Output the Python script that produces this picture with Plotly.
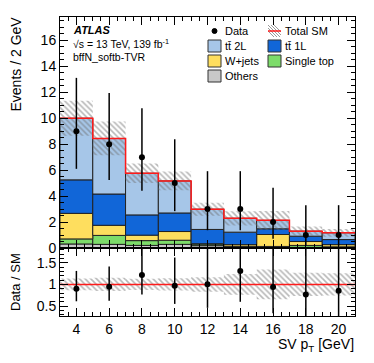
import numpy as np
import plotly.graph_objects as go

# SV pT bins (2 GeV wide)
bin_centers = [4, 6, 8, 10, 12, 14, 16, 18, 20]
bin_edges = [3, 5, 7, 9, 11, 13, 15, 17, 19, 21]
bin_width = 2

# stacked backgrounds, bottom to top
others = [0.31, 0.28, 0.20, 0.28, 0.18, 0.10, 0.08, 0.05, 0.05]
single_top = [0.39, 0.69, 0.37, 0.32, 0.13, 0.03, 0.04, 0.15, 0.04]
wjets = [1.97, 0.78, 0.42, 0.67, 0.02, 0.13, 0.92, 0.30, 0.17]
ttbar_1l = [2.58, 2.41, 1.56, 1.43, 1.10, 0.96, 0.44, 0.41, 0.39]
ttbar_2l = [4.75, 4.28, 3.21, 2.47, 1.56, 1.07, 0.65, 0.39, 0.52]

sm_unc = [1.35, 1.30, 0.75, 0.72, 0.50, 0.55, 0.73, 0.35, 0.30]

data = [9, 8, 7, 5, 3, 3, 2, 1, 1]
data_err_lo = [2.90, 2.76, 2.58, 2.16, 1.63, 1.63, 1.29, 0.83, 0.83]
data_err_hi = [4.11, 3.94, 3.77, 3.38, 2.92, 2.92, 2.64, 2.30, 2.30]

COLORS = {
    "Others": "#c8c8c8",
    "Single top": "#7ddc6a",
    "W+jets": "#fede5e",
    "tt\u0304 1L": "#1166d8",
    "tt\u0304 2L": "#a6c6e8",
}
components = [
    ("Others", others),
    ("Single top", single_top),
    ("W+jets", wjets),
    ("tt\u0304 1L", ttbar_1l),
    ("tt\u0304 2L", ttbar_2l),
]

FONT = "Liberation Sans, Arial, sans-serif"
HATCH = {"shape": "\\", "fgcolor": "#707070", "bgcolor": "rgba(0,0,0,0)", "size": 4, "solidity": 0.4}
RED = "#ff1a1a"

# the page body adds an 8px offset; the figure is shrunk to fit the window
PAGE_OFFSET = 8
FIG_W, FIG_H = 374 - PAGE_OFFSET, 363 - PAGE_OFFSET
# page-pixel frame of the plot area, used to place text and the hand-made legend
PX_L, PX_R, PX_T, PX_B = 60, 355, 17, 316


def px_to_paper(px, py):
    return (px - PX_L) / (PX_R - PX_L), (PX_B - py) / (PX_B - PX_T)


fig = go.Figure()

total = np.zeros(len(bin_centers))
for name, values in components:
    fig.add_trace(
        go.Bar(
            x=bin_centers,
            y=values,
            base=total.copy(),
            width=bin_width,
            name=name,
            marker={"color": COLORS[name], "line": {"color": "#222222", "width": 1}},
            xaxis="x",
            yaxis="y",
        )
    )
    total = total + np.array(values)

unc = np.array(sm_unc)

fig.add_trace(
    go.Bar(
        x=bin_centers,
        y=2 * unc,
        base=total - unc,
        width=bin_width,
        marker={"color": "rgba(0,0,0,0)", "line": {"width": 0}, "pattern": HATCH},
        xaxis="x",
        yaxis="y",
    )
)

fig.add_trace(
    go.Scatter(
        x=bin_edges,
        y=list(total) + [total[-1]],
        mode="lines",
        line={"color": RED, "width": 1.5, "shape": "hv"},
        xaxis="x",
        yaxis="y",
    )
)

err_style = {"type": "data", "symmetric": False, "thickness": 1.5, "width": 0, "color": "black"}

fig.add_trace(
    go.Scatter(
        x=bin_centers,
        y=data,
        mode="markers",
        marker={"color": "black", "size": 6},
        error_y={**err_style, "array": data_err_hi, "arrayminus": data_err_lo},
        xaxis="x",
        yaxis="y",
    )
)

# ratio panel
rel_unc = unc / total
ratio = np.array(data) / total
fig.add_trace(
    go.Bar(
        x=bin_centers,
        y=2 * rel_unc,
        base=1 - rel_unc,
        width=bin_width,
        marker={"color": "rgba(0,0,0,0)", "line": {"width": 0}, "pattern": HATCH},
        xaxis="x2",
        yaxis="y2",
    )
)
fig.add_trace(
    go.Scatter(
        x=[bin_edges[0], bin_edges[-1]],
        y=[1, 1],
        mode="lines",
        line={"color": RED, "width": 1.5},
        xaxis="x2",
        yaxis="y2",
    )
)
fig.add_trace(
    go.Scatter(
        x=bin_centers,
        y=ratio,
        mode="markers",
        marker={"color": "black", "size": 6},
        error_y={
            **err_style,
            "array": np.array(data_err_hi) / total,
            "arrayminus": np.array(data_err_lo) / total,
        },
        xaxis="x2",
        yaxis="y2",
    )
)

tick_font = {"size": 14, "color": "black", "family": FONT}


def axis(**kw):
    base = {
        "showline": True,
        "linecolor": "black",
        "linewidth": 1,
        "mirror": "ticks",
        "ticks": "inside",
        "ticklen": 8,
        "tickwidth": 1,
        "tickcolor": "black",
        "showgrid": False,
        "zeroline": False,
        "tickfont": tick_font,
    }
    base.update(kw)
    return base


def minor(step):
    return {"ticks": "inside", "dtick": step, "ticklen": 4, "tickcolor": "black", "showgrid": False}


split = 0.2274

fig.update_layout(
    width=FIG_W,
    height=FIG_H,
    margin={
        "l": PX_L - PAGE_OFFSET,
        "r": 374 - PX_R,
        "t": PX_T - PAGE_OFFSET,
        "b": 363 - PX_B,
        "autoexpand": False,
    },
    barmode="overlay",
    showlegend=False,
    plot_bgcolor="white",
    paper_bgcolor="white",
    font={"family": FONT, "color": "black"},
    xaxis=axis(domain=[0, 1], anchor="y", range=[3, 21], dtick=2, tick0=0,
               showticklabels=False, minor=minor(0.5)),
    yaxis=axis(domain=[split, 1], anchor="x", range=[0, 17.8], dtick=2, tick0=0,
               minor=minor(0.5)),
    xaxis2=axis(domain=[0, 1], anchor="y2", range=[3, 21], dtick=2, tick0=0,
                matches="x", minor=minor(0.5)),
    yaxis2=axis(domain=[0, split], anchor="x2", range=[0.27, 1.84],
                tickvals=[0.5, 1, 1.5], ticktext=["0.5", "1", "1.5"], minor=minor(0.1)),
)

# hand-made two-column legend, ROOT style
shapes = []
col_icons = [208, 268]
row_y = [31, 46, 61, 76]
legend_entries = [
    (0, 0, "Data", "data"),
    (1, 0, "Total SM", "total"),
    (0, 1, "tt\u0304 2L", "box"),
    (1, 1, "tt\u0304 1L", "box"),
    (0, 2, "W+jets", "box"),
    (1, 2, "Single top", "box"),
    (0, 3, "Others", "box"),
]
for col, row, label, kind in legend_entries:
    x0 = col_icons[col]
    yc = row_y[row]
    if kind == "box":
        a = px_to_paper(x0, yc + 6)
        b = px_to_paper(x0 + 13, yc - 6)
        shapes.append(dict(type="rect", xref="paper", yref="paper", x0=a[0], y0=a[1], x1=b[0], y1=b[1],
                           fillcolor=COLORS[label], line={"color": "#333333", "width": 1}))
    elif kind == "data":
        a = px_to_paper(x0 + 4, yc + 2.5)
        b = px_to_paper(x0 + 9, yc - 2.5)
        shapes.append(dict(type="circle", xref="paper", yref="paper", x0=a[0], y0=a[1], x1=b[0], y1=b[1],
                           fillcolor="black", line={"color": "black", "width": 1}))
    else:
        for k in range(-6, 7, 3):
            xa, ya = x0 + max(k, 0), yc - 6 + max(-k, 0)
            xb, yb = x0 + min(13, 12 + k), yc - 6 + min(12, 13 - k)
            a = px_to_paper(xa, ya)
            b = px_to_paper(xb, yb)
            shapes.append(dict(type="line", xref="paper", yref="paper", x0=a[0], y0=a[1], x1=b[0], y1=b[1],
                               line={"color": "#808080", "width": 0.8}))
        a = px_to_paper(x0, yc)
        b = px_to_paper(x0 + 13, yc)
        shapes.append(dict(type="line", xref="paper", yref="paper", x0=a[0], y0=a[1], x1=b[0], y1=b[1],
                           line={"color": RED, "width": 1.5}))
    tx, ty = px_to_paper(x0 + 15, yc)
    fig.add_annotation(text=label, x=tx, y=ty, xref="paper", yref="paper", xanchor="left",
                       yanchor="middle", showarrow=False, font={"size": 11, "family": FONT})
fig.update_layout(shapes=shapes)


def label(text, px, py, size, **kw):
    x, y = px_to_paper(px, py)
    fig.add_annotation(text=text, x=x, y=y, xref="paper", yref="paper", showarrow=False,
                       font={"size": size, "family": FONT, "color": "black"}, **kw)


label("<b><i>ATLAS</i></b>", 71, 30, 11, xanchor="left", yanchor="middle")
label("\u221as = 13 TeV, 139 fb<sup>-1</sup>", 71, 43, 10.5, xanchor="left", yanchor="middle")
label("bffN_softb-TVR", 71, 57, 10.5, xanchor="left", yanchor="middle")
label("Events / 2 GeV", 15, 15, 14, textangle=-90, xanchor="center", yanchor="top")
label("Data / SM", 15, 282, 13, textangle=-90, xanchor="center", yanchor="middle")
label("SV p<sub>T</sub> [GeV]", 356, 345, 14, xanchor="right", yanchor="middle")

fig.write_html("out.html")
